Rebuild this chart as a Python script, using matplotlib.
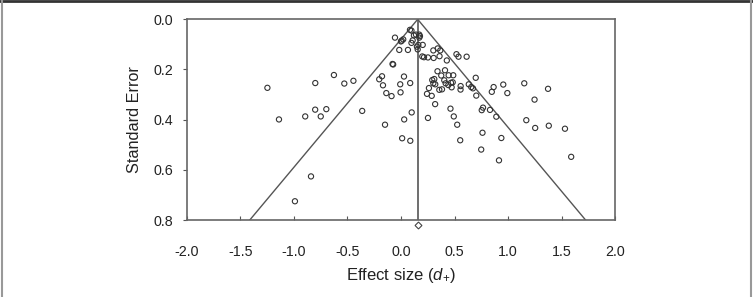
import matplotlib
matplotlib.use("Agg")
import matplotlib.pyplot as plt
from matplotlib.lines import Line2D

plt.rcParams['font.family'] = ['Liberation Sans', 'DejaVu Sans']
plt.rcParams['mathtext.fontset'] = 'custom'
plt.rcParams['mathtext.it'] = 'Liberation Sans:italic'
plt.rcParams['mathtext.rm'] = 'Liberation Sans'

# Effect sizes (d+) and standard errors of individual studies
effect = [
    -1.247, -1.139, -0.800, -0.626, -0.529, -0.444, -0.801, -0.894, -0.749, -0.697,
    -0.362, -0.840, -0.990, -0.149, -0.056, -0.079, -0.073, -0.203, -0.177, -0.168,
    -0.137, -0.088, -0.016, 0.065, 0.007, 0.021, 0.000, 0.084, 0.098, 0.121,
    0.140, 0.171, 0.177, 0.171, 0.098, 0.109, 0.149, 0.156, 0.162, 0.203,
    0.028, 0.086, -0.007, -0.004, 0.100, 0.030, 0.011, 0.087, 0.199, 0.215,
    0.252, 0.305, 0.302, 0.343, 0.367, 0.360, 0.428, 0.518, 0.537, 0.613,
    0.341, 0.411, 0.376, 0.445, 0.488, 0.292, 0.311, 0.302, 0.320, 0.404,
    0.417, 0.442, 0.467, 0.483, 0.473, 0.261, 0.243, 0.287, 0.358, 0.383,
    0.557, 0.556, 0.698, 0.633, 0.656, 0.672, 0.703, 0.865, 0.848, 0.955,
    0.993, 1.151, 1.373, 1.247, 0.319, 0.462, 0.766, 0.754, 0.831, 0.890,
    0.252, 0.493, 0.525, 1.170, 1.253, 1.380, 1.531, 0.761, 0.937, 0.553,
    0.749, 0.915, 1.589,
]
std_err = [
    0.273, 0.399, 0.254, 0.222, 0.256, 0.245, 0.360, 0.387, 0.387, 0.358,
    0.365, 0.626, 0.725, 0.420, 0.073, 0.178, 0.180, 0.239, 0.227, 0.263,
    0.294, 0.306, 0.122, 0.122, 0.085, 0.080, 0.088, 0.042, 0.045, 0.064,
    0.061, 0.061, 0.067, 0.073, 0.094, 0.084, 0.109, 0.120, 0.102, 0.102,
    0.228, 0.254, 0.259, 0.291, 0.371, 0.399, 0.474, 0.484, 0.148, 0.151,
    0.152, 0.154, 0.124, 0.116, 0.124, 0.147, 0.164, 0.139, 0.149, 0.149,
    0.207, 0.203, 0.224, 0.223, 0.223, 0.242, 0.238, 0.255, 0.259, 0.243,
    0.255, 0.262, 0.253, 0.251, 0.271, 0.274, 0.297, 0.305, 0.281, 0.279,
    0.266, 0.280, 0.233, 0.259, 0.270, 0.275, 0.304, 0.270, 0.289, 0.260,
    0.294, 0.255, 0.277, 0.320, 0.338, 0.356, 0.352, 0.362, 0.361, 0.388,
    0.393, 0.387, 0.420, 0.402, 0.433, 0.424, 0.436, 0.452, 0.473, 0.482,
    0.519, 0.562, 0.548,
]
pooled_d = 0.156
pooled_marker_se = 0.82
funnel_se_max = 0.8
z_crit = 1.96

x_ticks = [-2.0, -1.5, -1.0, -0.5, 0.0, 0.5, 1.0, 1.5, 2.0]
y_ticks = [0.0, 0.2, 0.4, 0.6, 0.8]

fig = plt.figure(figsize=(7.53, 2.97), dpi=100)
ax = fig.add_axes([0.248, 0.259, 0.569, 0.676])

line_col = '#555555'
ax.plot([pooled_d, pooled_d - z_crit * funnel_se_max], [0, funnel_se_max], color=line_col, lw=1.0)
ax.plot([pooled_d, pooled_d + z_crit * funnel_se_max], [0, funnel_se_max], color=line_col, lw=1.0)
ax.plot([pooled_d, pooled_d], [0, funnel_se_max], color=line_col, lw=1.2)

ax.scatter(effect, std_err, s=14, facecolors='none', edgecolors='#333333', linewidths=0.8, zorder=3)
ax.plot([pooled_d], [pooled_marker_se], marker='D', ms=3.5, mfc='white', mec='#444444',
        mew=0.8, clip_on=False, zorder=4)

ax.set_xlim(-2.0, 2.0)
ax.set_ylim(0.8, 0.0)
ax.set_xticks(x_ticks)
ax.set_xticklabels([f'{t:.1f}' for t in x_ticks])
ax.set_yticks(y_ticks)
ax.set_yticklabels([f'{t:.1f}' for t in y_ticks])
ax.tick_params(axis='x', direction='in', length=3, pad=18, labelsize=10.3, colors='#555555', labelcolor='#222222')
ax.tick_params(axis='y', direction='out', length=3, pad=7, labelsize=10.3, colors='#555555', labelcolor='#222222')
for s in ax.spines.values():
    s.set_color('#666666')
    s.set_linewidth(1.2)

ax.set_xlabel(r'Effect size ($d_{+}$)', fontsize=12, color='#222222', labelpad=5)
ax.set_ylabel('Standard Error', fontsize=11.7, color='#222222', labelpad=8)

# outer frame of the figure
fig.add_artist(Line2D([0, 1], [0.997, 0.997], transform=fig.transFigure, color='#333333', lw=2))
fig.add_artist(Line2D([0.002, 0.002], [0, 1], transform=fig.transFigure, color='#999999', lw=1.5))
fig.add_artist(Line2D([0.998, 0.998], [0, 1], transform=fig.transFigure, color='#999999', lw=1.5))

fig.savefig('out.png', dpi=100)
